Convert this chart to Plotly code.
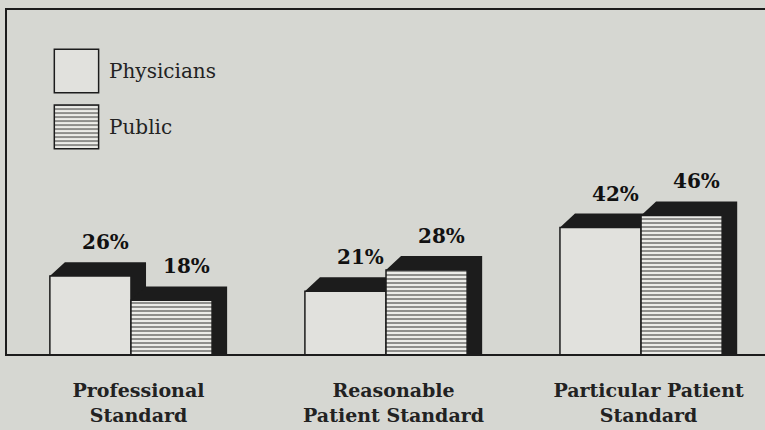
import plotly.graph_objects as go

categories = ["Professional<br>Standard", "Reasonable<br>Patient Standard", "Particular Patient<br>Standard"]
physicians = [26, 21, 42]
public = [18, 28, 46]
series_names = ["Physicians", "Public"]

BG = "#d6d7d2"
PHYS_FILL = "#e1e1dd"
HATCH_BG = "#ececE8"
INK = "#1c1c1c"
SERIF = "DejaVu Serif"

BAR_W = 0.318   # bar width in category units
DX = 0.059      # 3d depth, x (category units)
DY = 4.6        # 3d depth, y (percent units)

idx = list(range(len(categories)))
phys_x = [i - BAR_W / 2 for i in idx]
pub_x = [i + BAR_W / 2 for i in idx]

hatch = dict(shape="-", fgcolor=INK, bgcolor=HATCH_BG, size=4, solidity=0.45)
outline = dict(color=INK, width=1.5)

fig = go.Figure()

# front faces
fig.add_trace(go.Bar(x=phys_x, y=physicians, width=BAR_W, name=series_names[0],
                     marker=dict(color=PHYS_FILL, line=outline)))
fig.add_trace(go.Bar(x=pub_x, y=public, width=BAR_W, name=series_names[1],
                     marker=dict(color=HATCH_BG, pattern=hatch, line=outline)))

# black tops and sides (scatter is drawn above the bars, so clip what the public bar hides)
px_, py_ = [], []
for i in idx:
    x0, x1 = i - BAR_W, i
    v = physicians[i]
    lo = max(0, min(public[i], v + DY))
    px_ += [x0, x0 + DX, x1 + DX, x1 + DX, x1, x1, x0, None]
    py_ += [v, v + DY, v + DY, lo, lo, v, v, None]
fig.add_trace(go.Scatter(x=px_, y=py_, mode="lines", line=dict(width=0), fill="toself",
                         fillcolor=INK, hoverinfo="skip"))

qx, qy = [], []
for i in idx:
    x1, x2 = i, i + BAR_W
    v = public[i]
    qx += [x1, x1 + DX, x2 + DX, x2 + DX, x2, x2, x1, None]
    qy += [v, v + DY, v + DY, 0, 0, v, v, None]
fig.add_trace(go.Scatter(x=qx, y=qy, mode="lines", line=dict(width=0), fill="toself",
                         fillcolor=INK, hoverinfo="skip"))

# value labels
for xs, vals in [(phys_x, physicians), (pub_x, public)]:
    for x, v in zip(xs, vals):
        fig.add_annotation(x=x + DX, y=v + DY, text=f"{v}%", showarrow=False,
                           yanchor="bottom", yshift=6,
                           font=dict(family=SERIF, size=20, color="#111", weight="bold"))

# legend swatches on their own little axes
fig.add_trace(go.Bar(x=[0.5], y=[1], base=[1.28], width=[1], xaxis="x2", yaxis="y2",
                     marker=dict(color=PHYS_FILL, line=outline)))
fig.add_trace(go.Bar(x=[0.5], y=[1], base=[0], width=[1], xaxis="x2", yaxis="y2",
                     marker=dict(color=HATCH_BG, pattern=hatch, line=outline)))
for name, yc in [(series_names[0], 1.78), (series_names[1], 0.5)]:
    fig.add_annotation(x=1, y=yc, xref="x2", yref="y2", text=name, showarrow=False,
                       xanchor="left", xshift=8,
                       font=dict(family=SERIF, size=20, color="#222"))

# frame (right edge runs off the page)
fig.add_shape(type="rect", xref="paper", yref="paper", x0=0, x1=1.02, y0=0, y1=1,
              line=dict(color=INK, width=2), layer="above")

fig.update_layout(
    width=765, height=430,
    margin=dict(l=6, r=0, t=9, b=75),
    paper_bgcolor=BG, plot_bgcolor=BG,
    barmode="overlay", showlegend=False,
    xaxis=dict(range=[-0.49, 2.486], tickvals=[i + DX / 2 for i in idx], ticktext=categories,
               showgrid=False, zeroline=False, ticks="", ticklabelstandoff=22,
               tickfont=dict(family=SERIF, size=19, color="#222", weight="bold")),
    yaxis=dict(range=[0, 114], visible=False),
    xaxis2=dict(domain=[0.0619, 0.1238], range=[-0.03, 1.03], anchor="y2", visible=False),
    yaxis2=dict(domain=[0.59, 0.89], range=[-0.05, 2.33], anchor="x2", visible=False),
)

fig.write_html("out.html", config={"displayModeBar": False},
               post_script="document.body.style.margin='0';")
